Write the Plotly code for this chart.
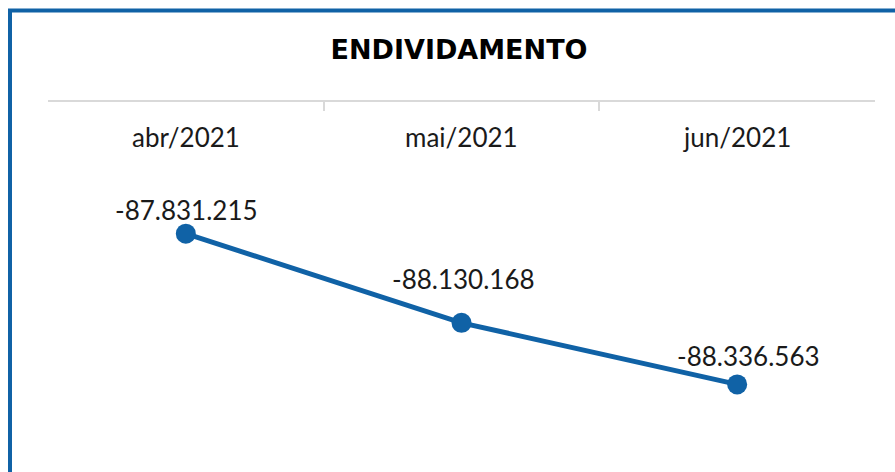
import plotly.graph_objects as go

categories = ["abr/2021", "mai/2021", "jun/2021"]
values = [-87831215, -88130168, -88336563]
value_labels = ["-87.831.215", "-88.130.168", "-88.336.563"]
title_text = "ENDIVIDAMENTO"

BLUE = "#1062A6"
GRAY = "#D9D9D9"
TXT = "#1a1a1a"
FONT = "Lato"

W, H = 895, 472
L, R, T, B = 48, 20, 102, 9
plot_h = H - T - B

fig = go.Figure()
fig.add_trace(go.Scatter(
    x=categories, y=values, mode="lines+markers",
    line=dict(color=BLUE, width=5),
    marker=dict(color=BLUE, size=20),
    hoverinfo="skip", showlegend=False,
))

# value labels (manually offset as in the original)
yshifts = [24, 44, 28]
xshifts = [1, 2, 11]
for c, v, t, ys, xs in zip(categories, values, value_labels, yshifts, xshifts):
    fig.add_annotation(x=c, y=v, xref="x", yref="y", text=t, showarrow=False,
                       yshift=ys, xshift=xs, yanchor="middle", xanchor="center",
                       font=dict(family=FONT, size=26, color=TXT))

# category labels below the top axis line
lab_y = (H - B - 137) / plot_h
for c in categories:
    fig.add_annotation(x=c, y=lab_y, xref="x", yref="paper", text=c, showarrow=False,
                       yanchor="middle", xanchor="center",
                       font=dict(family=FONT, size=26, color=TXT))

# outer blue frame (extends beyond the visible canvas on right/bottom)
pw = W - L - R
x0 = (10 - L) / pw
y1 = (H - B - 10.5) / plot_h
fig.add_shape(type="rect", xref="paper", yref="paper",
              x0=x0, x1=1.2, y0=-0.2, y1=y1,
              line=dict(color=BLUE, width=4), fillcolor="rgba(0,0,0,0)", layer="above")

fig.update_layout(
    width=W, height=H,
    margin=dict(l=L, r=R, t=T, b=B),
    paper_bgcolor="white", plot_bgcolor="white",
    title=dict(text="<b>" + title_text + "</b>", x=(459) / W, xanchor="center",
               y=1 - 50 / H, yanchor="middle", yref="container",
               font=dict(family="DejaVu Sans", size=27, color="#000000")),
    xaxis=dict(type="category", side="top", range=[-0.5, 2.5],
               showline=True, linecolor=GRAY, linewidth=2,
               ticks="inside", tickson="boundaries", ticklen=9, tickwidth=2, tickcolor=GRAY,
               showticklabels=False, showgrid=False, zeroline=False, fixedrange=True),
    yaxis=dict(range=[-88.6e6, -87.39e6], visible=False, showgrid=False, zeroline=False,
               fixedrange=True),
)

fig.write_html("out.html", config={"displayModeBar": False},
               post_script="document.body.style.margin='0';document.body.style.overflow='hidden';")
